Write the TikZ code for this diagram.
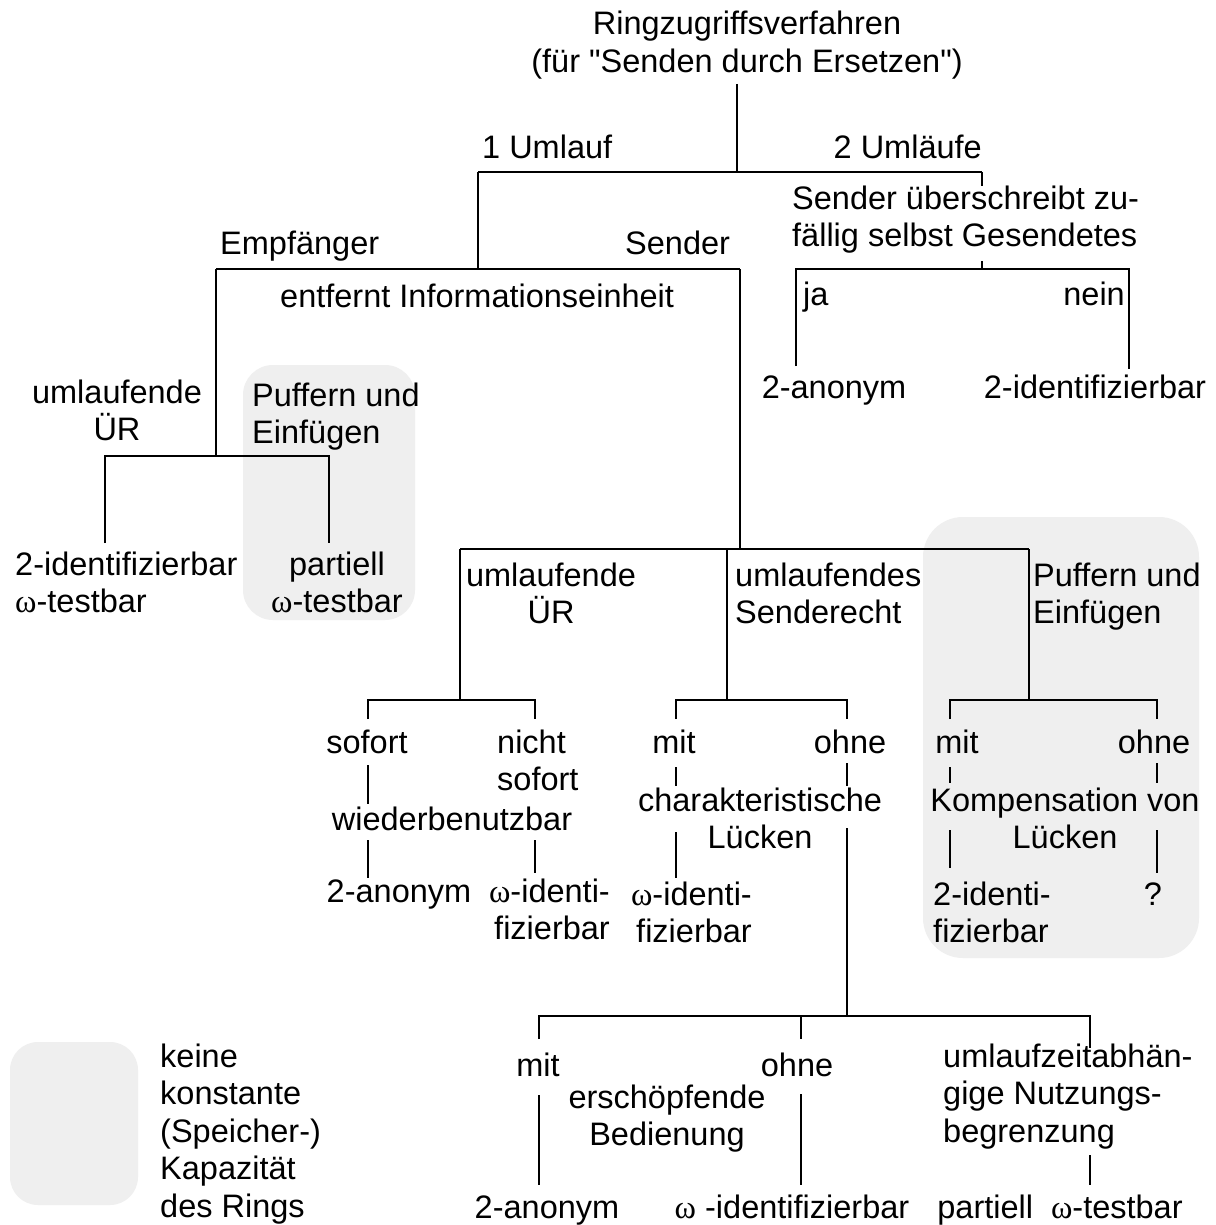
\documentclass[tikz,border=0pt]{standalone}
\usepackage{fontspec}
\setmainfont{Liberation Sans}[Ligatures=TeXOff]
\newfontfamily\omfont{Liberation Serif}
\newcommand{\om}{{\omfont ω}}
\newcommand{\fs}{\fontsize{32.5}{37.5}\selectfont}
\definecolor{boxgray}{HTML}{EFEFEF}
\begin{document}
\begin{tikzpicture}[x=1pt,y=-1pt,
  every node/.style={inner sep=0pt, font=\fs},
  ln/.style={line width=2.4pt},
  gbox/.style={fill=boxgray}]
\fill[white] (0,0) rectangle (1215,1225);
\useasboundingbox (0,0) rectangle (1215,1225);

% grey areas
\fill[gbox, rounded corners=30pt] (243,365) rectangle (415,620);
\fill[gbox, rounded corners=40pt] (923,517) rectangle (1199,958);
\fill[gbox, rounded corners=28pt] (10,1042) rectangle (138,1205);

% ---------- texts (multi-line nodes: anchor on the last line's baseline) ----------
\node[anchor=base, align=center] (title) at (747,72.5) {Ringzugriffsverfahren\\(für "Senden durch Ersetzen")};
\node[anchor=base west] (u1) at (482,159) {1 Umlauf};
\node[anchor=base east] (u2) at (982,159) {2 Umläufe};
\node[anchor=base west, align=left] (suz) at (792,246.5) {Sender überschreibt zu-\\fällig selbst Gesendetes};
\node[anchor=base west] (ja) at (803,305) {ja};
\node[anchor=base east] (nein) at (1125,305) {nein};
\node[anchor=base] (an1) at (834,398) {2-anonym};
\node[anchor=base] (id1) at (1095,398) {2-identifizierbar};

\node[anchor=base west] (emp) at (220,254) {Empfänger};
\node[anchor=base west] (sen) at (625,254) {Sender};
\node[anchor=base west] (ent) at (280,307) {entfernt Informationseinheit};

\node[anchor=base, align=center] (ulr) at (117,440.5) {umlaufende\\ÜR};
\node[anchor=base west, align=left] (pe1) at (252,443.5) {Puffern und\\Einfügen};
\node[anchor=base west, align=left] (id2) at (15,612.5) {2-identifizierbar\\\om-testbar};
\node[anchor=base, align=center] (pt1) at (337,612.5) {partiell\\\om-testbar};

\node[anchor=base, align=center] (ulr2) at (551,623.5) {umlaufende\\ÜR};
\node[anchor=base west, align=left] (usr) at (735,623.5) {umlaufendes\\Senderecht};
\node[anchor=base west, align=left] (pe2) at (1033,623.5) {Puffern und\\Einfügen};

\node[anchor=base] (sof) at (367,753) {sofort};
\node[anchor=base west, align=left] (nsof) at (497,790.5) {nicht\\sofort};
\node[anchor=base] (wb) at (452,830) {wiederbenutzbar};
\node[anchor=base] (an2) at (399,902) {2-anonym};
\node[anchor=base east, align=right] (oid1) at (610,939.5) {\om-identi-\\fizierbar};

\node[anchor=base] (mit1) at (674,753) {mit};
\node[anchor=base] (ohne1) at (850,753) {ohne};
\node[anchor=base, align=center] (char) at (760,848.5) {charakteristische\\Lücken};
\node[anchor=base east, align=right] (oid2) at (752,942.5) {\om-identi-\\fizierbar};

\node[anchor=base] (mit2) at (957,753) {mit};
\node[anchor=base] (ohne2) at (1154,753) {ohne};
\node[anchor=base, align=center] (kvl) at (1065,848.5) {Kompensation von\\Lücken};
\node[anchor=base west, align=left] (id3) at (933,942.5) {2-identi-\\fizierbar};
\node[anchor=base] (q) at (1153,905) {?};

\node[anchor=base] (mit3) at (538,1076) {mit};
\node[anchor=base] (ohne3) at (797,1076) {ohne};
\node[anchor=base, align=center] (erb) at (667,1145.5) {erschöpfende\\Bedienung};
\node[anchor=base west, align=left] (ulz) at (943,1142) {umlaufzeitabhän-\\gige Nutzungs-\\begrenzung};
\node[anchor=base] (an3) at (547,1218) {2-anonym};
\node[anchor=base] (oid3) at (792,1218) {\om\ -identifizierbar};
\node[anchor=base] (pt2) at (1060,1218) {partiell\hspace{0.55em}\om-testbar};

\node[anchor=base west, align=left] (leg) at (160,1217) {keine\\konstante\\(Speicher-)\\Kapazität\\des Rings};

% ---------- connector coordinates ----------
\coordinate (r0) at (737,84);   \coordinate (r1) at (737,172);
\coordinate (h1l) at (478,172); \coordinate (h1r) at (982,172);
\coordinate (a1) at (982,186);
\coordinate (a2) at (982,261);  \coordinate (a3) at (982,269);
\coordinate (jl) at (796,269);  \coordinate (jr) at (1129,269);
\coordinate (jlb) at (796,366); \coordinate (jrb) at (1129,369);

\coordinate (e1) at (478,269);
\coordinate (el) at (216,269);  \coordinate (er) at (740,269);
\coordinate (el2) at (216,456);
\coordinate (ul) at (105,456);  \coordinate (ur) at (329,456);
\coordinate (ulb) at (105,543); \coordinate (urb) at (329,543);

\coordinate (s2) at (740,549);
\coordinate (ml) at (460,549);  \coordinate (mr) at (1029,549);
\coordinate (mm) at (727,549);
\coordinate (mlb) at (460,700); \coordinate (mmb) at (727,700); \coordinate (mrb) at (1029,700);

\coordinate (sl) at (368,700);  \coordinate (sr) at (535,700);
\coordinate (slb) at (368,719); \coordinate (srb) at (535,719);
\coordinate (sa1) at (368,765); \coordinate (sa2) at (368,804);
\coordinate (sb1) at (368,840); \coordinate (sb2) at (368,878);
\coordinate (nb1) at (535,840); \coordinate (nb2) at (535,873);

\coordinate (cl) at (676,700);  \coordinate (cr) at (847,700);
\coordinate (clb) at (676,719); \coordinate (crb) at (847,719);
\coordinate (ca1) at (676,767); \coordinate (ca2) at (676,786);
\coordinate (cc1) at (847,763); \coordinate (cc2) at (847,786);
\coordinate (cb1) at (676,832); \coordinate (cb2) at (676,878);
\coordinate (cd1) at (847,828); \coordinate (cd2) at (847,1016);

\coordinate (bl) at (539,1016); \coordinate (br) at (1090,1016);
\coordinate (bm) at (801,1016);
\coordinate (blb) at (539,1039); \coordinate (bmb) at (801,1039); \coordinate (brb) at (1090,1048);
\coordinate (ba1) at (539,1095); \coordinate (ba2) at (539,1185);
\coordinate (bb1) at (801,1094); \coordinate (bb2) at (801,1185);
\coordinate (bc1) at (1090,1155); \coordinate (bc2) at (1090,1185);

\coordinate (kl) at (950,700);  \coordinate (kr) at (1157,700);
\coordinate (klb) at (950,719); \coordinate (krb) at (1157,719);
\coordinate (ka1) at (950,767); \coordinate (ka2) at (950,783);
\coordinate (kc1) at (1157,763); \coordinate (kc2) at (1157,783);
\coordinate (kb1) at (950,830); \coordinate (kb2) at (950,868);
\coordinate (kd1) at (1157,830); \coordinate (kd2) at (1157,873);

% ---------- connectors ----------
\draw[ln] (r0) -- (r1);
\draw[ln] (h1l) -- (h1r);
\draw[ln] (h1r) -- (a1);
\draw[ln] (a2) -- (a3);
\draw[ln] (jlb) -- (jl) -- (jr) -- (jrb);

\draw[ln] (h1l) -- (e1);
\draw[ln] (el) -- (er);
\draw[ln] (el) -- (el2);
\draw[ln] (ulb) -- (ul) -- (ur) -- (urb);

\draw[ln] (er) -- (s2);
\draw[ln] (ml) -- (mr);
\draw[ln] (ml) -- (mlb);
\draw[ln] (mm) -- (mmb);
\draw[ln] (mr) -- (mrb);

\draw[ln] (slb) -- (sl) -- (sr) -- (srb);
\draw[ln] (sa1) -- (sa2);
\draw[ln] (sb1) -- (sb2);
\draw[ln] (nb1) -- (nb2);

\draw[ln] (clb) -- (cl) -- (cr) -- (crb);
\draw[ln] (ca1) -- (ca2);
\draw[ln] (cc1) -- (cc2);
\draw[ln] (cb1) -- (cb2);
\draw[ln] (cd1) -- (cd2);

\draw[ln] (blb) -- (bl) -- (br) -- (brb);
\draw[ln] (bm) -- (bmb);
\draw[ln] (ba1) -- (ba2);
\draw[ln] (bb1) -- (bb2);
\draw[ln] (bc1) -- (bc2);

\draw[ln] (klb) -- (kl) -- (kr) -- (krb);
\draw[ln] (ka1) -- (ka2);
\draw[ln] (kc1) -- (kc2);
\draw[ln] (kb1) -- (kb2);
\draw[ln] (kd1) -- (kd2);
\end{tikzpicture}
\end{document}
